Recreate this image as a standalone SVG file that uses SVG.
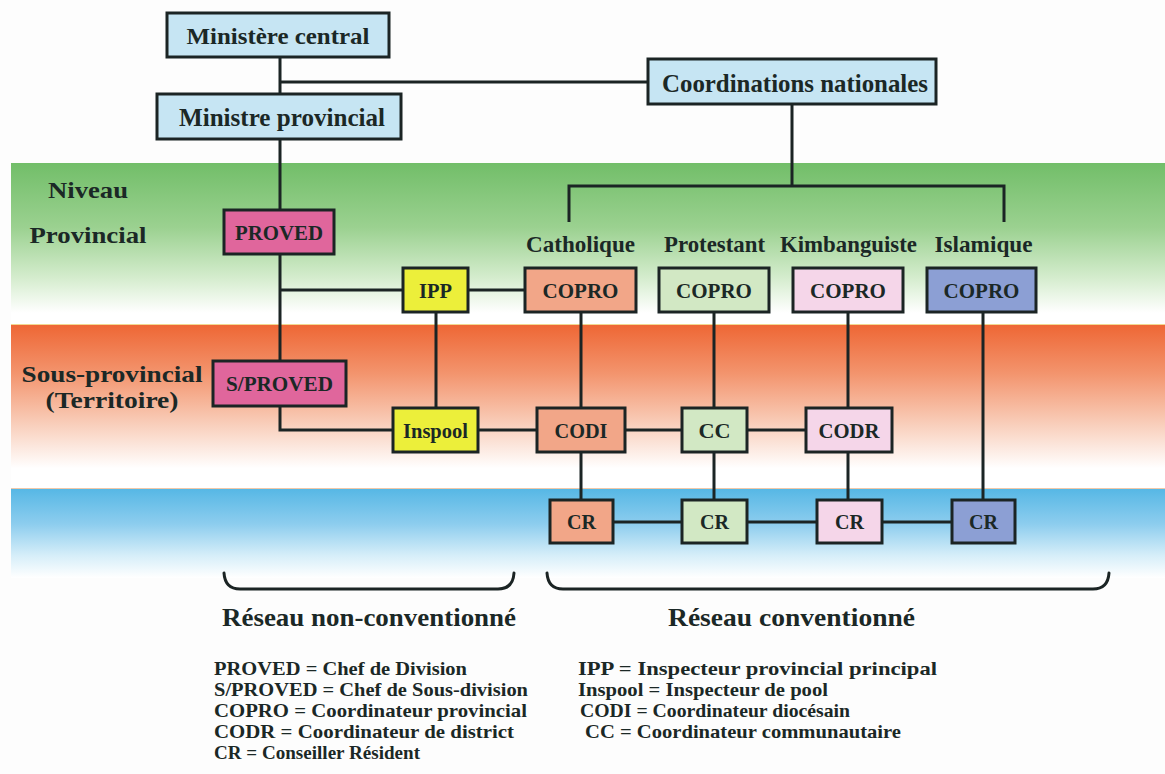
<svg xmlns="http://www.w3.org/2000/svg" width="1165" height="774" viewBox="0 0 1165 774">
<defs>
<linearGradient id="gGreen" x1="0" y1="0" x2="0" y2="1">
<stop offset="0" stop-color="#72be69"/><stop offset="0.4" stop-color="#9bd190"/><stop offset="0.72" stop-color="#d6edcf"/><stop offset="0.93" stop-color="#ffffff"/>
</linearGradient>
<linearGradient id="gOrange" x1="0" y1="0" x2="0" y2="1">
<stop offset="0" stop-color="#ee6634"/><stop offset="0.3" stop-color="#f3946d"/><stop offset="0.62" stop-color="#f9d0bd"/><stop offset="0.88" stop-color="#ffffff"/>
</linearGradient>
<linearGradient id="gBlue" x1="0" y1="0" x2="0" y2="1">
<stop offset="0" stop-color="#55b7e5"/><stop offset="0.4" stop-color="#8dcdee"/><stop offset="0.75" stop-color="#d6eef9"/><stop offset="1" stop-color="#ffffff"/>
</linearGradient>
<style>
.t{font-family:"Liberation Serif","Times New Roman",serif;font-weight:bold;fill:#1b2826}
.bx{stroke:#1b2424;stroke-width:3}
.c{fill:none;stroke:#1b2424;stroke-width:3}
.br{fill:none;stroke:#1b2424;stroke-width:3;stroke-linecap:round}
.blue{fill:#c6e5f3}.pink{fill:#e0669c}.yel{fill:#ecef3a}.sal{fill:#f2a688}.grn{fill:#d2e8c4}.lpk{fill:#f5d6e9}.lav{fill:#8c9fd4}
.bt{font-size:22px;text-anchor:middle}
.lg{font-size:19px}
</style>
</defs>
<rect width="1165" height="774" fill="#fdfdfd"/>
<g id="bands">
<rect x="11" y="163" width="1154" height="161" fill="url(#gGreen)"/>
<rect x="11" y="324" width="1154" height="164" fill="url(#gOrange)"/>
<rect x="11" y="488" width="1154" height="90" fill="url(#gBlue)"/>
<line x1="11" y1="324.5" x2="1165" y2="324.5" stroke="#f2d890" stroke-width="1"/>
<line x1="11" y1="488.5" x2="1165" y2="488.5" stroke="#f0c8a8" stroke-width="1"/>
</g>
<g id="levels">
<text class="t" x="88" y="198" font-size="24" text-anchor="middle" textLength="80" lengthAdjust="spacingAndGlyphs">Niveau</text>
<text class="t" x="88" y="243" font-size="24" text-anchor="middle" textLength="117" lengthAdjust="spacingAndGlyphs">Provincial</text>
<text class="t" x="112" y="382" font-size="24" text-anchor="middle" textLength="181" lengthAdjust="spacingAndGlyphs">Sous-provincial</text>
<text class="t" x="112" y="408" font-size="24" text-anchor="middle" textLength="133" lengthAdjust="spacingAndGlyphs">(Territoire)</text>
</g>
<g id="connectors">
<path class="c" d="M280,57 V94 M280,82 H648 M280,139 V210 M280,254 V361 M280,290 H403 M468,290 H525 M436,312 V408 M280,406 V430 H393 M478,430 H537"/>
<path class="c" d="M792,104 V186 M569,222 V186 H1004 V222"/>
<path class="c" d="M581,312 V408 M581,452 V500 M714,312 V408 M714,452 V500 M848,312 V408 M848,452 V500 M983,312 V500"/>
<path class="c" d="M625,430 H682 M747,430 H806 M613,522 H682 M747,522 H817 M882,522 H952"/>
</g>
<g id="n-ministere-central"><rect class="bx blue" x="167" y="13" width="222" height="44"/><text class="t" x="278" y="44" font-size="24" text-anchor="middle" textLength="183" lengthAdjust="spacingAndGlyphs">Ministère  central</text></g>
<g id="n-ministre-provincial"><rect class="bx blue" x="157" y="94" width="244" height="45"/><text class="t" x="282" y="126" font-size="25" text-anchor="middle" textLength="206" lengthAdjust="spacingAndGlyphs">Ministre  provincial</text></g>
<g id="n-coordinations"><rect class="bx blue" x="648" y="59" width="288" height="45"/><text class="t" x="795" y="92" font-size="25" text-anchor="middle" textLength="266" lengthAdjust="spacingAndGlyphs">Coordinations  nationales</text></g>
<g id="n-proved"><rect class="bx pink" x="224" y="210" width="110" height="44"/><text class="t bt" x="279" y="240" textLength="88" lengthAdjust="spacingAndGlyphs">PROVED</text></g>
<g id="n-ipp"><rect class="bx yel" x="403" y="268" width="65" height="44"/><text class="t bt" x="435.5" y="298" textLength="33" lengthAdjust="spacingAndGlyphs">IPP</text></g>
<g id="n-sproved"><rect class="bx pink" x="213" y="361" width="133" height="45"/><text class="t bt" x="279.5" y="391" textLength="107" lengthAdjust="spacingAndGlyphs">S/PROVED</text></g>
<g id="n-inspool"><rect class="bx yel" x="393" y="408" width="85" height="44"/><text class="t bt" x="435.5" y="438" textLength="65" lengthAdjust="spacingAndGlyphs">Inspool</text></g>
<g id="labels-confessions">
<text class="t" x="580.5" y="252" font-size="24" text-anchor="middle" textLength="109" lengthAdjust="spacingAndGlyphs">Catholique</text>
<text class="t" x="714.5" y="252" font-size="24" text-anchor="middle" textLength="101" lengthAdjust="spacingAndGlyphs">Protestant</text>
<text class="t" x="848.5" y="252" font-size="24" text-anchor="middle" textLength="137" lengthAdjust="spacingAndGlyphs">Kimbanguiste</text>
<text class="t" x="983.5" y="252" font-size="24" text-anchor="middle" textLength="98" lengthAdjust="spacingAndGlyphs">Islamique</text>
</g>
<g id="n-copro-cath"><rect class="bx sal" x="525" y="268" width="111" height="44"/><text class="t bt" x="580.5" y="298" textLength="76" lengthAdjust="spacingAndGlyphs">COPRO</text></g>
<g id="n-copro-prot"><rect class="bx grn" x="659" y="268" width="110" height="44"/><text class="t bt" x="714" y="298" textLength="76" lengthAdjust="spacingAndGlyphs">COPRO</text></g>
<g id="n-copro-kimb"><rect class="bx lpk" x="793" y="268" width="110" height="44"/><text class="t bt" x="848" y="298" textLength="76" lengthAdjust="spacingAndGlyphs">COPRO</text></g>
<g id="n-copro-isl"><rect class="bx lav" x="927" y="268" width="109" height="44"/><text class="t bt" x="981.5" y="298" textLength="76" lengthAdjust="spacingAndGlyphs">COPRO</text></g>
<g id="n-codi"><rect class="bx sal" x="537" y="408" width="88" height="44"/><text class="t bt" x="581" y="438" textLength="53" lengthAdjust="spacingAndGlyphs">CODI</text></g>
<g id="n-cc"><rect class="bx grn" x="682" y="408" width="65" height="44"/><text class="t bt" x="714.5" y="438" textLength="32" lengthAdjust="spacingAndGlyphs">CC</text></g>
<g id="n-codr"><rect class="bx lpk" x="806" y="408" width="86" height="44"/><text class="t bt" x="849" y="438" textLength="61" lengthAdjust="spacingAndGlyphs">CODR</text></g>
<g id="n-cr-cath"><rect class="bx sal" x="550" y="500" width="63" height="43"/><text class="t bt" x="581.5" y="529" textLength="29" lengthAdjust="spacingAndGlyphs">CR</text></g>
<g id="n-cr-prot"><rect class="bx grn" x="682" y="500" width="65" height="43"/><text class="t bt" x="714.5" y="529" textLength="29" lengthAdjust="spacingAndGlyphs">CR</text></g>
<g id="n-cr-kimb"><rect class="bx lpk" x="817" y="500" width="65" height="43"/><text class="t bt" x="849.5" y="529" textLength="29" lengthAdjust="spacingAndGlyphs">CR</text></g>
<g id="n-cr-isl"><rect class="bx lav" x="952" y="500" width="63" height="43"/><text class="t bt" x="983.5" y="529" textLength="29" lengthAdjust="spacingAndGlyphs">CR</text></g>
<g id="braces">
<path class="br" d="M224,573 Q225,589 240,589 L498,589 Q513,589 514,573"/>
<path class="br" d="M547,573 Q548,589 563,589 L1093,589 Q1108,589 1109,573"/>
</g>
<g id="networks">
<text class="t" x="369" y="626" font-size="26" text-anchor="middle" textLength="294" lengthAdjust="spacingAndGlyphs">Réseau  non-conventionné</text>
<text class="t" x="791.5" y="626" font-size="26" text-anchor="middle" textLength="247" lengthAdjust="spacingAndGlyphs">Réseau  conventionné</text>
</g>
<g id="legend">
<text class="t lg" x="214" y="675" textLength="253" lengthAdjust="spacingAndGlyphs">PROVED = Chef de Division</text>
<text class="t lg" x="214" y="696" textLength="314" lengthAdjust="spacingAndGlyphs">S/PROVED = Chef de Sous-division</text>
<text class="t lg" x="214" y="717" textLength="313" lengthAdjust="spacingAndGlyphs">COPRO = Coordinateur provincial</text>
<text class="t lg" x="214" y="738" textLength="300" lengthAdjust="spacingAndGlyphs">CODR = Coordinateur de district</text>
<text class="t lg" x="214" y="759" textLength="206" lengthAdjust="spacingAndGlyphs">CR = Conseiller Résident</text>
<text class="t lg" x="578" y="675" textLength="359" lengthAdjust="spacingAndGlyphs">IPP = Inspecteur provincial principal</text>
<text class="t lg" x="578" y="696" textLength="250" lengthAdjust="spacingAndGlyphs">Inspool = Inspecteur de pool</text>
<text class="t lg" x="580" y="717" textLength="270" lengthAdjust="spacingAndGlyphs">CODI = Coordinateur diocésain</text>
<text class="t lg" x="585" y="738" textLength="316" lengthAdjust="spacingAndGlyphs">CC = Coordinateur communautaire</text>
</g>
</svg>
